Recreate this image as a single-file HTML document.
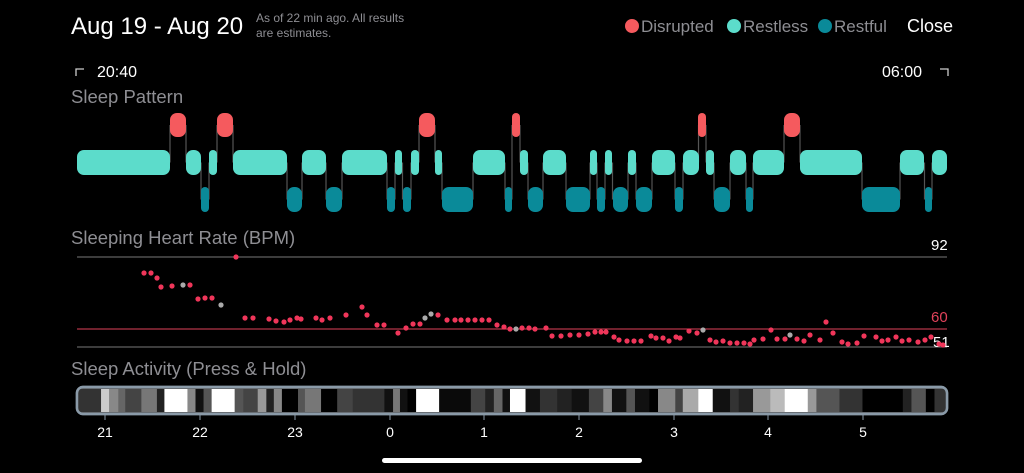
<!DOCTYPE html><html><head><style>
body{margin:0;background:#000;width:1024px;height:473px;overflow:hidden;font-family:"Liberation Sans",sans-serif}
svg{position:absolute;left:0;top:0}
</style></head><body>
<svg width="1024" height="473" font-family="Liberation Sans, sans-serif">
<text x="71" y="34" fill="#fff" font-size="24">Aug 19 - Aug 20</text>
<text x="256" y="22" fill="#8e8e93" font-size="12">As of 22 min ago. All results</text>
<text x="256" y="37" fill="#8e8e93" font-size="12">are estimates.</text>
<circle cx="632" cy="26" r="7" fill="#f55a5e"/><text x="641" y="32" fill="#8e8e93" font-size="17">Disrupted</text>
<circle cx="734" cy="26" r="7" fill="#5cdccb"/><text x="743" y="32" fill="#8e8e93" font-size="17">Restless</text>
<circle cx="825" cy="26" r="7" fill="#0a8a99"/><text x="834" y="32" fill="#8e8e93" font-size="17">Restful</text>
<text x="907" y="32" fill="#fff" font-size="18">Close</text>
<path d="M76 76V69H84M948 76V69H940" stroke="#ccc" stroke-width="1.3" fill="none"/>
<text x="97" y="77" fill="#fff" font-size="16">20:40</text>
<text x="882" y="77" fill="#fff" font-size="16">06:00</text>
<text x="71" y="103" fill="#8e8e93" font-size="18.5">Sleep Pattern</text>
<text x="71" y="244" fill="#8e8e93" font-size="18.5">Sleeping Heart Rate (BPM)</text>
<text x="71" y="375" fill="#8e8e93" font-size="18.5">Sleep Activity (Press &amp; Hold)</text>
<g id="lines" stroke="#555" stroke-width="1.2"></g>
<g id="bars"></g>
<line x1="77" y1="257" x2="947" y2="257" stroke="#777"/>
<line x1="77" y1="329" x2="947" y2="329" stroke="#e0425a"/>
<line x1="77" y1="347" x2="947" y2="347" stroke="#777"/>
<text x="931" y="250" fill="#fff" font-size="15">92</text>
<text x="931" y="322" fill="#e0425a" font-size="15">60</text>
<text x="933" y="347" fill="#fff" font-size="15">51</text>
<g id="dots"></g>
<rect x="77" y="387" width="870" height="27" rx="6" fill="#555" stroke="#8a9aa8" stroke-width="2.5"/>
<svg x="78" y="389" width="868" height="23" viewBox="38 0 1507 1" preserveAspectRatio="none" id="act"></svg>
<rect x="77" y="387" width="870" height="27" rx="6" fill="none" stroke="#8a9aa8" stroke-width="2.5"/>
<g stroke="#8a9aa8" stroke-width="1"><line x1="105" y1="414" x2="105" y2="420"/><line x1="200" y1="414" x2="200" y2="420"/><line x1="295" y1="414" x2="295" y2="420"/><line x1="390" y1="414" x2="390" y2="420"/><line x1="484" y1="414" x2="484" y2="420"/><line x1="579" y1="414" x2="579" y2="420"/><line x1="674" y1="414" x2="674" y2="420"/><line x1="768" y1="414" x2="768" y2="420"/><line x1="863" y1="414" x2="863" y2="420"/></g>
<g fill="#fff" font-size="14" text-anchor="middle"><text x="105" y="437">21</text><text x="200" y="437">22</text><text x="295" y="437">23</text><text x="390" y="437">0</text><text x="484" y="437">1</text><text x="579" y="437">2</text><text x="674" y="437">3</text><text x="768" y="437">4</text><text x="863" y="437">5</text></g>
<rect x="382" y="458" width="260" height="5" rx="2.5" fill="#fff"/>
</svg>
<script>
const NS="http://www.w3.org/2000/svg";
function el(p,t,a){const e=document.createElementNS(NS,t);for(const k in a)e.setAttribute(k,a[k]);p.appendChild(e);return e;}
const bars=document.getElementById('bars'),lines=document.getElementById('lines');
const rows=[[113,137,'#f55a5e',[[170,186],[217,233],[419,435],[512,520],[698,706],[784,800]]],
[150,175,'#5cdccb',[[77,170],[186,201],[209,217],[233,287],[302,326],[342,387],[395,402],[411,419],[435,442],[473,505],[520,528],[543,566],[590,597],[605,612],[628,636],[652,675],[683,699],[706,714],[730,746],[753,784],[800,862],[900,924],[932,947]]],
[187,212,'#0a8a99',[[201,209],[287,302],[326,342],[387,395],[403,411],[442,473],[505,512],[528,543],[566,590],[597,605],[613,628],[636,652],[675,683],[714,730],[746,753],[862,900],[925,932]]]];
const segs=[];
rows.forEach(r=>r[3].forEach(s=>segs.push([s[0],s[1],(r[0]+r[1])/2])));
segs.sort((a,b)=>a[0]-b[0]);
for(let i=1;i<segs.length;i++){const p=segs[i-1],n=segs[i];const x=(p[1]+n[0])/2;el(lines,'line',{x1:x,x2:x,y1:p[2],y2:n[2]});}
rows.forEach(r=>r[3].forEach(s=>{const w=s[1]-s[0];el(bars,'rect',{x:s[0],y:r[0],width:w,height:r[1]-r[0],rx:Math.min(7,w/2),fill:r[2]});}));
const d=[[144,273],[151,273],[157,278],[161,287],[172,286],[183,285,1],[190,285],[198,299],[205,298],[212,298],[221,305,1],[236,257],[245,318],[253,318],[269,319],[276,321],[284,322],[290,320],[297,318],[301,319],[316,318],[322,320],[330,318],[346,315],[362,307],[367,315],[377,325],[384,325],[398,333],[406,328],[413,324],[420,324],[425,318,1],[431,314,1],[438,315],[447,320],[455,320],[461,320],[468,320],[475,320],[482,320],[489,320],[497,325],[504,327],[510,329],[516,329,1],[522,328],[529,328],[535,329],[546,328],[552,336],[561,336],[570,335],[579,335],[588,334],[595,332],[601,332],[606,332],[614,337],[619,340],[627,341],[634,341],[641,341],[651,336],[656,338],[663,338],[669,341],[676,337],[680,338],[689,331],[697,333],[703,330,1],[710,340],[716,342],[723,341],[730,343],[737,343],[744,343],[750,344],[754,340],[763,339],[771,330],[777,339],[785,339],[790,335,1],[797,339],[804,341],[810,335],[820,340],[826,322],[833,333],[842,342],[848,344],[857,343],[864,336],[876,337],[882,341],[888,340],[896,337],[902,341],[909,340],[918,342],[925,340],[931,337],[939,344],[943,345]];
const dots=document.getElementById('dots');
d.forEach(p=>el(dots,'circle',{cx:p[0],cy:p[1],r:2.6,fill:p[2]?'#aaa':'#f0365a'}));
const a=[[38,78,'333'],[78,92,'ccc'],[92,108,'888'],[108,120,'666'],[120,148,'444'],[148,175,'777'],[175,188,'222'],[188,228,'fff'],[228,242,'888'],[242,256,'111'],[256,270,'555'],[270,310,'fff'],[310,325,'555'],[325,350,'444'],[350,365,'999'],[365,378,'222'],[378,392,'888'],[392,420,'000'],[420,432,'555'],[432,460,'777'],[460,488,'000'],[488,515,'444'],[515,570,'333'],[570,585,'111'],[585,597,'777'],[597,610,'111'],[610,625,'000'],[625,665,'fff'],[665,720,'0a0a0a'],[720,745,'444'],[745,760,'222'],[760,775,'666'],[775,788,'111'],[788,815,'fff'],[815,840,'111'],[840,870,'333'],[870,895,'222'],[895,925,'111'],[925,950,'444'],[950,965,'888'],[965,990,'111'],[990,1005,'555'],[1005,1030,'111'],[1030,1045,'000'],[1045,1075,'888'],[1075,1088,'444'],[1088,1115,'aaa'],[1115,1140,'fff'],[1140,1170,'111'],[1170,1185,'333'],[1185,1210,'222'],[1210,1240,'999'],[1240,1265,'bbb'],[1265,1305,'fff'],[1305,1320,'999'],[1320,1360,'555'],[1360,1400,'333'],[1400,1470,'000'],[1470,1485,'222'],[1485,1510,'555'],[1510,1525,'000'],[1525,1545,'333']];
const act=document.getElementById('act');
a.forEach(s=>el(act,'rect',{x:s[0],y:0,width:s[1]-s[0]+0.5,height:1,fill:'#'+s[2]}));
</script>
</body></html>
